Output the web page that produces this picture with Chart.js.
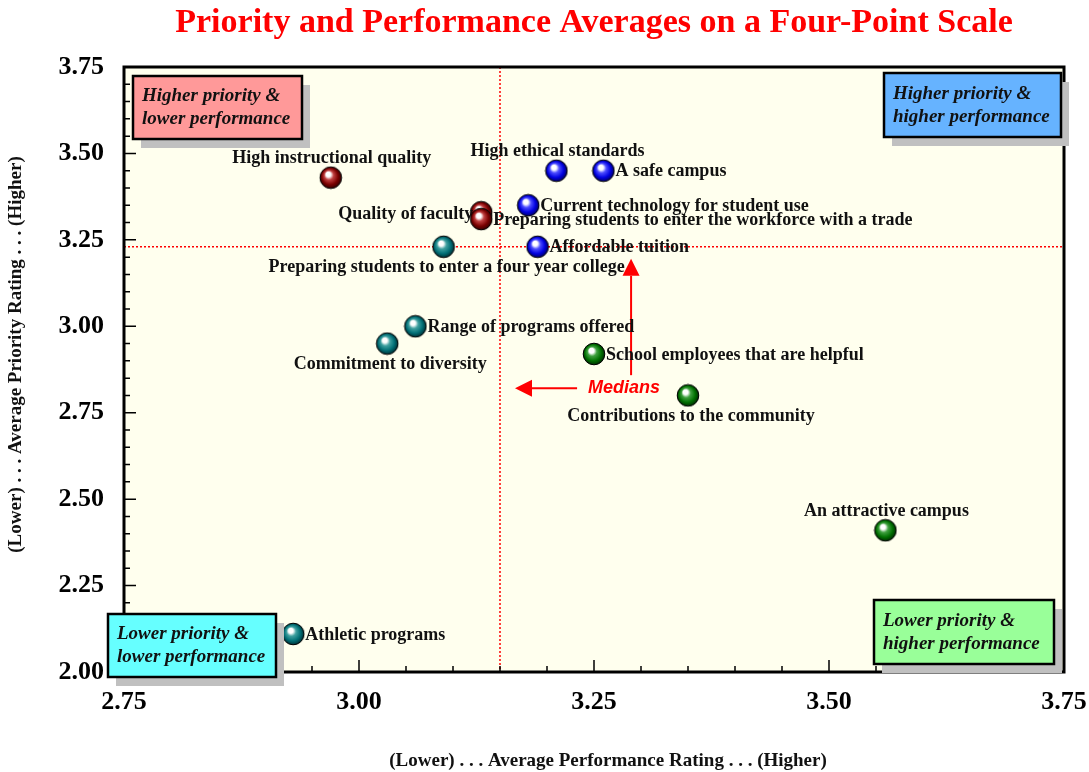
<!DOCTYPE html>
<html>
<head>
<meta charset="utf-8">
<script src="https://cdn.jsdelivr.net/npm/chart.js@4"></script>
<style>
  body { margin: 0; background: #fff; }
  #wrap { width: 1089px; height: 772px; position: relative; }
</style>
</head>
<body>
<div id="wrap"><canvas id="grafico"></canvas></div>
<script>
// datos
const nombres = [
  'High instructional quality',
  'Quality of faculty',
  'Preparing students to enter the workforce with a trade',
  'High ethical standards',
  'A safe campus',
  'Current technology for student use',
  'Affordable tuition',
  'Preparing students to enter a four year college',
  'Range of programs offered',
  'Commitment to diversity',
  'Athletic programs',
  'School employees that are helpful',
  'Contributions to the community',
  'An attractive campus'
];
const desempeno = [2.97, 3.13, 3.13, 3.21, 3.26, 3.18, 3.19, 3.09, 3.06, 3.03, 2.93, 3.25, 3.35, 3.56];
const prioridad = [3.43, 3.33, 3.31, 3.45, 3.45, 3.35, 3.23, 3.23, 3.00, 2.95, 2.11, 2.92, 2.80, 2.41];
const grupo = ['rojo', 'rojo', 'rojo', 'azul', 'azul', 'azul', 'azul', 'teal', 'teal', 'teal', 'teal', 'verde', 'verde', 'verde'];
const medianaDesempeno = 3.15;
const medianaPrioridad = 3.23;
const ticksX = [2.75, 3.00, 3.25, 3.50, 3.75];
const ticksY = [2.00, 2.25, 2.50, 2.75, 3.00, 3.25, 3.50, 3.75];

// estilo
const ladoEtiqueta = ['above', 'left', 'right', 'above', 'right', 'right', 'right', 'below', 'right', 'below', 'right', 'right', 'below', 'above'];
const coloresGrupo = {
  rojo:  ['#c04040', '#7a0000', '#2a0000'],
  azul:  ['#4d4dff', '#0000e0', '#000050'],
  teal:  ['#40a0a0', '#006e75', '#002428'],
  verde: ['#40a040', '#007000', '#002000']
};
const SERIF = '"Liberation Serif", "Times New Roman", serif';

function esfera(c) {
  const cv = document.createElement('canvas');
  cv.width = 24; cv.height = 24;
  const g = cv.getContext('2d');
  const grd = g.createRadialGradient(9, 8, 0.5, 12, 12, 11.5);
  grd.addColorStop(0, '#ffffff');
  grd.addColorStop(0.18, '#ffffff');
  grd.addColorStop(0.38, c[0]);
  grd.addColorStop(0.7, c[1]);
  grd.addColorStop(1, c[2]);
  g.beginPath();
  g.arc(12, 12, 10.8, 0, Math.PI * 2);
  g.fillStyle = grd;
  g.fill();
  g.lineWidth = 1;
  g.strokeStyle = '#000';
  g.stroke();
  return cv;
}

const datasets = Object.keys(coloresGrupo).map(k => {
  const idx = grupo.map((gr, i) => gr === k ? i : -1).filter(i => i >= 0);
  return {
    label: k,
    data: idx.map(i => ({ x: desempeno[i], y: prioridad[i], i: i })),
    pointStyle: esfera(coloresGrupo[k]),
    pointRadius: 11,
    pointHoverRadius: 11
  };
});

function caja(ctx, x, y, w, h, color, lineas) {
  ctx.save();
  ctx.fillStyle = '#c0c0c0';
  ctx.fillRect(x + 8, y + 9, w, h);
  ctx.fillStyle = color;
  ctx.fillRect(x, y, w, h);
  ctx.lineWidth = 2.5;
  ctx.strokeStyle = '#000';
  ctx.strokeRect(x, y, w, h);
  ctx.fillStyle = '#111';
  ctx.font = 'italic bold 19px ' + SERIF;
  ctx.textAlign = 'left';
  ctx.textBaseline = 'middle';
  ctx.fillText(lineas[0], x + 9, y + h / 2 - 11);
  ctx.fillText(lineas[1], x + 9, y + h / 2 + 12);
  ctx.restore();
}

function flecha(ctx, x1, y1, x2, y2) {
  const ang = Math.atan2(y2 - y1, x2 - x1);
  const hl = 17, hw = 8.5;
  const bx = x2 - hl * Math.cos(ang), by = y2 - hl * Math.sin(ang);
  ctx.beginPath();
  ctx.moveTo(x1, y1);
  ctx.lineTo(bx, by);
  ctx.stroke();
  ctx.beginPath();
  ctx.moveTo(x2, y2);
  ctx.lineTo(bx + hw * Math.sin(ang), by - hw * Math.cos(ang));
  ctx.lineTo(bx - hw * Math.sin(ang), by + hw * Math.cos(ang));
  ctx.closePath();
  ctx.fill();
}

const decoracion = {
  id: 'decoracion',
  beforeDatasetsDraw(chart) {
    const { ctx, chartArea: a, scales: { x, y } } = chart;
    ctx.save();
    // fondo
    ctx.fillStyle = '#ffffee';
    ctx.fillRect(a.left, a.top, a.right - a.left, a.bottom - a.top);
    // medianas
    ctx.strokeStyle = '#ff0000';
    ctx.lineWidth = 1.5;
    ctx.setLineDash([2, 2]);
    const mx = x.getPixelForValue(medianaDesempeno);
    const my = y.getPixelForValue(medianaPrioridad);
    ctx.beginPath();
    ctx.moveTo(mx, a.top); ctx.lineTo(mx, a.bottom);
    ctx.moveTo(a.left, my); ctx.lineTo(a.right, my);
    ctx.stroke();
    ctx.setLineDash([]);
    // ticks hacia dentro (solo izquierda y abajo)
    ctx.strokeStyle = '#000';
    ctx.lineWidth = 1.5;
    ctx.beginPath();
    for (let k = 0; k <= 35; k++) {
      const py = y.getPixelForValue(2.0 + k * 0.05);
      const len = k % 5 === 0 ? 12 : 6;
      ctx.moveTo(a.left, py); ctx.lineTo(a.left + len, py);
    }
    for (let k = 0; k <= 20; k++) {
      const px = x.getPixelForValue(2.75 + k * 0.05);
      const len = k % 5 === 0 ? 12 : 6;
      ctx.moveTo(px, a.bottom); ctx.lineTo(px, a.bottom - len);
    }
    ctx.stroke();
    // marco
    ctx.lineWidth = 3;
    ctx.strokeRect(a.left, a.top, a.right - a.left, a.bottom - a.top);

    // texto Medians y flechas
    const tx = x.getPixelForValue(3.282), ty = y.getPixelForValue(2.821);
    ctx.fillStyle = '#ff0000';
    ctx.strokeStyle = '#ff0000';
    ctx.lineWidth = 2;
    ctx.font = 'italic bold 18px "Liberation Sans", Arial, sans-serif';
    ctx.textAlign = 'center';
    ctx.textBaseline = 'middle';
    ctx.fillText('Medians', tx, ty);
    flecha(ctx, tx - 47, ty, mx + 15, ty);
    flecha(ctx, tx + 7, ty - 13, tx + 7, my + 12);
    ctx.restore();
  },
  afterDatasetsDraw(chart) {
    const { ctx, chartArea: a, scales: { x, y } } = chart;
    ctx.save();
    // etiquetas de puntos
    ctx.fillStyle = '#111';
    ctx.font = 'bold 18px ' + SERIF;
    ctx.textBaseline = 'middle';
    nombres.forEach((n, i) => {
      const px = x.getPixelForValue(desempeno[i]);
      const py = y.getPixelForValue(prioridad[i]);
      const lado = ladoEtiqueta[i];
      if (lado === 'right') { ctx.textAlign = 'left'; ctx.fillText(n, px + 12, py + 1); }
      else if (lado === 'left') { ctx.textAlign = 'right'; ctx.fillText(n, px - 8, py + 2); }
      else if (lado === 'above') { ctx.textAlign = 'center'; ctx.fillText(n, px + 1, py - 19); }
      else { ctx.textAlign = 'center'; ctx.fillText(n, px + 3, py + 21); }
    });
    // cajas de cuadrantes
    caja(ctx, a.left + 9, a.top + 9, 169, 63, '#ff9999', ['Higher priority &', 'lower performance']);
    caja(ctx, a.right - 180, a.top + 6, 177, 64, '#66b3ff', ['Higher priority &', 'higher performance']);
    caja(ctx, a.left - 16, a.bottom - 58, 168, 63, '#66ffff', ['Lower priority &', 'lower performance']);
    caja(ctx, a.right - 190, a.bottom - 72, 180, 64, '#99ff99', ['Lower priority &', 'higher performance']);

    // titulo
    ctx.fillStyle = '#ff0000';
    ctx.font = 'bold 34px ' + SERIF;
    ctx.textAlign = 'center';
    ctx.textBaseline = 'middle';
    ctx.fillText('Priority and Performance Averages on a Four-Point Scale', (a.left + a.right) / 2, 23);
    // titulos de ejes
    ctx.fillStyle = '#111';
    ctx.font = 'bold 19px ' + SERIF;
    ctx.fillText('(Lower) . . . Average Performance Rating . . . (Higher)', (a.left + a.right) / 2 + 14, 761);
    ctx.translate(16, (a.top + a.bottom) / 2 - 15);
    ctx.rotate(-Math.PI / 2);
    ctx.fillText('(Lower) . . . Average Priority Rating . . . (Higher)', 0, 0);
    ctx.restore();
  }
};

new Chart(document.getElementById('grafico').getContext('2d'), {
  type: 'scatter',
  data: { datasets: datasets },
  options: {
    responsive: true,
    maintainAspectRatio: false,
    animation: false,
    layout: { padding: { top: 67, right: 25, left: 0, bottom: 0 } },
    plugins: { legend: { display: false }, tooltip: { enabled: false } },
    scales: {
      x: {
        type: 'linear',
        min: 2.75, max: 3.75,
        afterFit(s) { s.height = 100; s.paddingLeft = 0; s.paddingRight = 0; },
        afterBuildTicks(s) { s.ticks = ticksX.map(v => ({ value: v })); },
        grid: { display: false, drawTicks: false },
        border: { display: false },
        ticks: {
          padding: 15,
          color: '#000',
          font: { family: SERIF, size: 26, weight: 'bold' },
          callback: v => v.toFixed(2)
        }
      },
      y: {
        type: 'linear',
        min: 2.0, max: 3.75,
        afterFit(s) { s.width = 124; s.paddingTop = 0; s.paddingBottom = 0; },
        afterBuildTicks(s) { s.ticks = ticksY.map(v => ({ value: v })); },
        grid: { display: false, drawTicks: false },
        border: { display: false },
        ticks: {
          padding: 20,
          color: '#000',
          font: { family: SERIF, size: 26, weight: 'bold' },
          callback: v => v.toFixed(2)
        }
      }
    }
  },
  plugins: [decoracion]
});
</script>
</body>
</html>
